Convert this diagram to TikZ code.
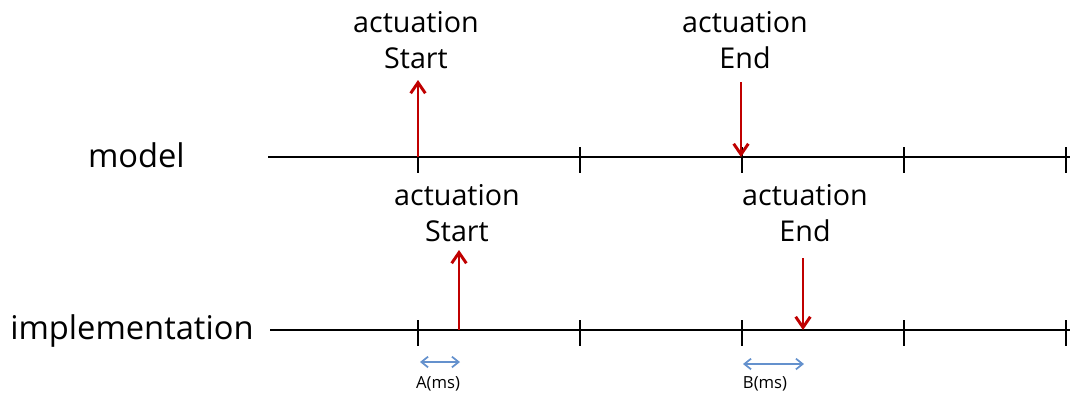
\documentclass[tikz,border=0pt]{standalone}
\usepackage{fontspec}
\setmainfont{Open Sans}
\usepackage{tikz}
\usetikzlibrary{arrows.meta,positioning}
\definecolor{actred}{RGB}{192,0,0}
\definecolor{gapblue}{RGB}{100,145,205}

\begin{document}
\begin{tikzpicture}[x=0.75pt, y=-0.75pt,
      axis/.style={line width=1.3pt},
      tick/.style={line width=1.3pt},
      act/.style={draw=actred, line width=2.2pt, -{Straight Barb[length=8pt, width=11pt]}},
      gap/.style={draw=gapblue, line width=1.3pt, {Straight Barb[length=5pt, width=8pt]}-{Straight Barb[length=5pt, width=8pt]}},
      lbl/.style={font=\fontsize{21.5}{27}\selectfont, align=center, inner sep=0pt},
      rowname/.style={font=\fontsize{24.5}{29}\selectfont, inner sep=0pt},
      small/.style={font=\fontsize{12.5}{15}\selectfont, inner sep=0pt}]
    \useasboundingbox (0,0) rectangle (1073,401);

    % time lines
    \node[rowname, anchor=base east] (model) at (185,167) {model};
    \node[rowname, anchor=base west] (impl) at (10,339) {implementation};
    \coordinate (m0) at (268,157);
    \coordinate (m1) at (1070,157);
    \coordinate (i0) at (270,330);
    \coordinate (i1) at (1070,330);
    \draw[axis] (m0) -- (m1);
    \draw[axis] (i0) -- (i1);
    \foreach \x in {418,580,742,904,1066} {
      \draw[tick] (\x,147) -- (\x,173);
      \draw[tick] (\x,320) -- (\x,346);
    }

    % model events
    \node[lbl] (mstart) at (416,40) {actuation\\Start};
    \node[lbl] (mend) at (745,40) {actuation\\End};
    \coordinate (ms) at (418,157);
    \coordinate (mse) at (418,80);
    \coordinate (me) at (741,82);
    \coordinate (mee) at (741,157);
    \draw[act] (ms) -- (mse);
    \draw[act] (me) -- (mee);

    % implementation events
    \node[lbl] (istart) at (457,213) {actuation\\Start};
    \node[lbl] (iend) at (805,213) {actuation\\End};
    \coordinate (is) at (459,330);
    \coordinate (ise) at (459,250);
    \coordinate (ie) at (803,258);
    \coordinate (iee) at (803,330);
    \draw[act] (is) -- (ise);
    \draw[act] (ie) -- (iee);

    % delays
    \coordinate (a0) at (420,362);
    \coordinate (a1) at (460,362);
    \coordinate (b0) at (743,364);
    \coordinate (b1) at (804,364);
    \draw[gap] (a0) -- (a1);
    \draw[gap] (b0) -- (b1);
    \node[small] (adelay) at (438,384) {A(ms)};
    \node[small] (bdelay) at (765,384) {B(ms)};
  \end{tikzpicture}
\end{document}
